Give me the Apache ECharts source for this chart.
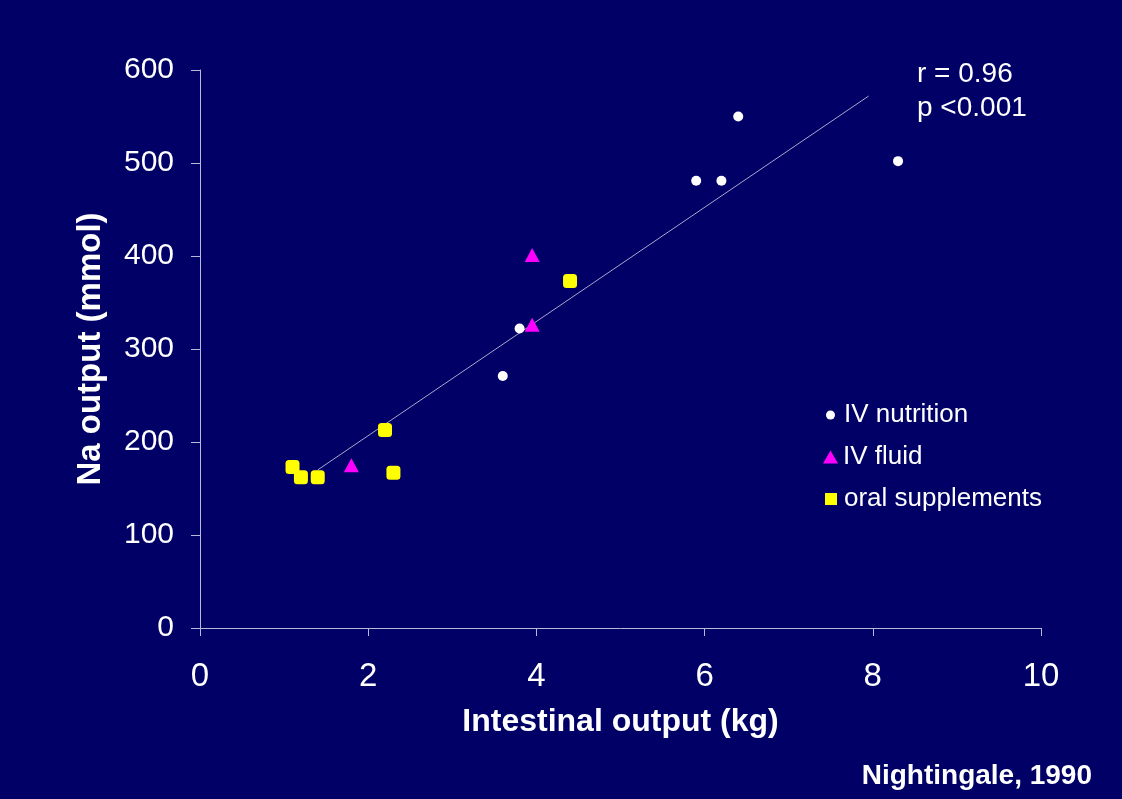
<!DOCTYPE html>
<html>
<head>
<meta charset="utf-8">
<script src="https://cdn.jsdelivr.net/npm/echarts@6/dist/echarts.min.js"></script>
<style>
  html, body { margin: 0; padding: 0; background: #000066; }
  #chart { width: 1122px; height: 799px; }
</style>
</head>
<body>
<div id="chart"></div>
<script>
// data: [intestinal output kg, Na output mmol]
var ivNutrition = [[3.6, 271], [3.8, 322], [5.9, 481], [6.2, 481], [6.4, 550], [8.3, 502]];
var ivFluid = [[1.8, 175], [3.95, 326], [3.95, 401]];
var oralSupplements = [[1.1, 173], [1.2, 162], [1.4, 162], [2.2, 213], [2.3, 167], [4.4, 373]];
var trendLine = [[1.4, 170], [7.95, 572]];
var xTicks = [0, 2, 4, 6, 8, 10];
var yTicks = [0, 100, 200, 300, 400, 500, 600];

var axisColor = '#b8b8d8';
var font = 'Liberation Sans, Arial, sans-serif';

var chart = echarts.init(document.getElementById('chart'));

var option = {
  backgroundColor: '#000066',
  animation: false,
  grid: { left: 200, right: 81, top: 70, bottom: 171 },
  xAxis: {
    type: 'value',
    min: xTicks[0],
    max: xTicks[xTicks.length - 1],
    interval: 2,
    name: 'Intestinal output (kg)',
    nameLocation: 'middle',
    nameGap: 78,
    nameTextStyle: { color: '#ffffff', fontSize: 32, fontWeight: 'bold', fontFamily: font },
    axisLine: { lineStyle: { color: axisColor, width: 1 } },
    axisTick: { length: 8, lineStyle: { color: axisColor } },
    axisLabel: { color: '#ffffff', fontSize: 33, margin: 32, fontFamily: font },
    splitLine: { show: false }
  },
  yAxis: {
    type: 'value',
    min: yTicks[0],
    max: yTicks[yTicks.length - 1],
    interval: 100,
    name: 'Na output (mmol)',
    nameLocation: 'middle',
    nameGap: 93,
    nameTextStyle: { color: '#ffffff', fontSize: 33, fontWeight: 'bold', fontFamily: font },
    axisLine: { show: true, lineStyle: { color: axisColor, width: 1 } },
    axisTick: { show: true, length: 9, lineStyle: { color: axisColor } },
    axisLabel: { color: '#ffffff', fontSize: 30, margin: 26, fontFamily: font },
    splitLine: { show: false }
  },
  legend: [
    {
      data: [{ name: 'IV nutrition', icon: 'circle' }],
      left: 821, top: 397, orient: 'vertical',
      itemWidth: 9, itemHeight: 9,
      textStyle: { color: '#ffffff', fontSize: 26, fontFamily: font, padding: [0, 0, 0, 4] }
    },
    {
      data: [{ name: 'IV fluid', icon: 'triangle' }],
      left: 818, top: 439, orient: 'vertical',
      itemWidth: 15, itemHeight: 13,
      textStyle: { color: '#ffffff', fontSize: 26, fontFamily: font, padding: [0, 0, 0, 0] }
    },
    {
      data: [{ name: 'oral supplements', icon: 'rect' }],
      left: 820, top: 481, orient: 'vertical',
      itemWidth: 12, itemHeight: 12,
      textStyle: { color: '#ffffff', fontSize: 26, fontFamily: font, padding: [0, 0, 0, 2] }
    }
  ],
  graphic: [
    {
      type: 'text', left: 917, top: 57,
      style: { text: 'r = 0.96\np <0.001', fill: '#ffffff', font: '28px ' + font, lineHeight: 34 }
    },
    {
      type: 'text', right: 30, top: 762,
      style: { text: 'Nightingale, 1990', fill: '#ffffff', font: 'bold 28px ' + font }
    }
  ],
  series: [
    {
      name: 'trend',
      type: 'line',
      data: trendLine,
      symbol: 'none',
      lineStyle: { color: '#a8a8d0', width: 1 },
      silent: true,
      z: 1
    },
    {
      name: 'IV nutrition',
      type: 'scatter',
      data: ivNutrition,
      symbol: 'circle',
      symbolSize: 10,
      itemStyle: { color: '#ffffff', opacity: 1 },
      z: 3
    },
    {
      name: 'IV fluid',
      type: 'scatter',
      data: ivFluid,
      symbol: 'triangle',
      symbolSize: [15, 14],
      itemStyle: { color: '#ff00ff', opacity: 1 },
      z: 3
    },
    {
      name: 'oral supplements',
      type: 'scatter',
      data: oralSupplements,
      symbol: 'roundRect',
      symbolSize: 14,
      itemStyle: { color: '#ffff00', opacity: 1 },
      z: 3
    }
  ]
};

chart.setOption(option);
</script>
</body>
</html>
